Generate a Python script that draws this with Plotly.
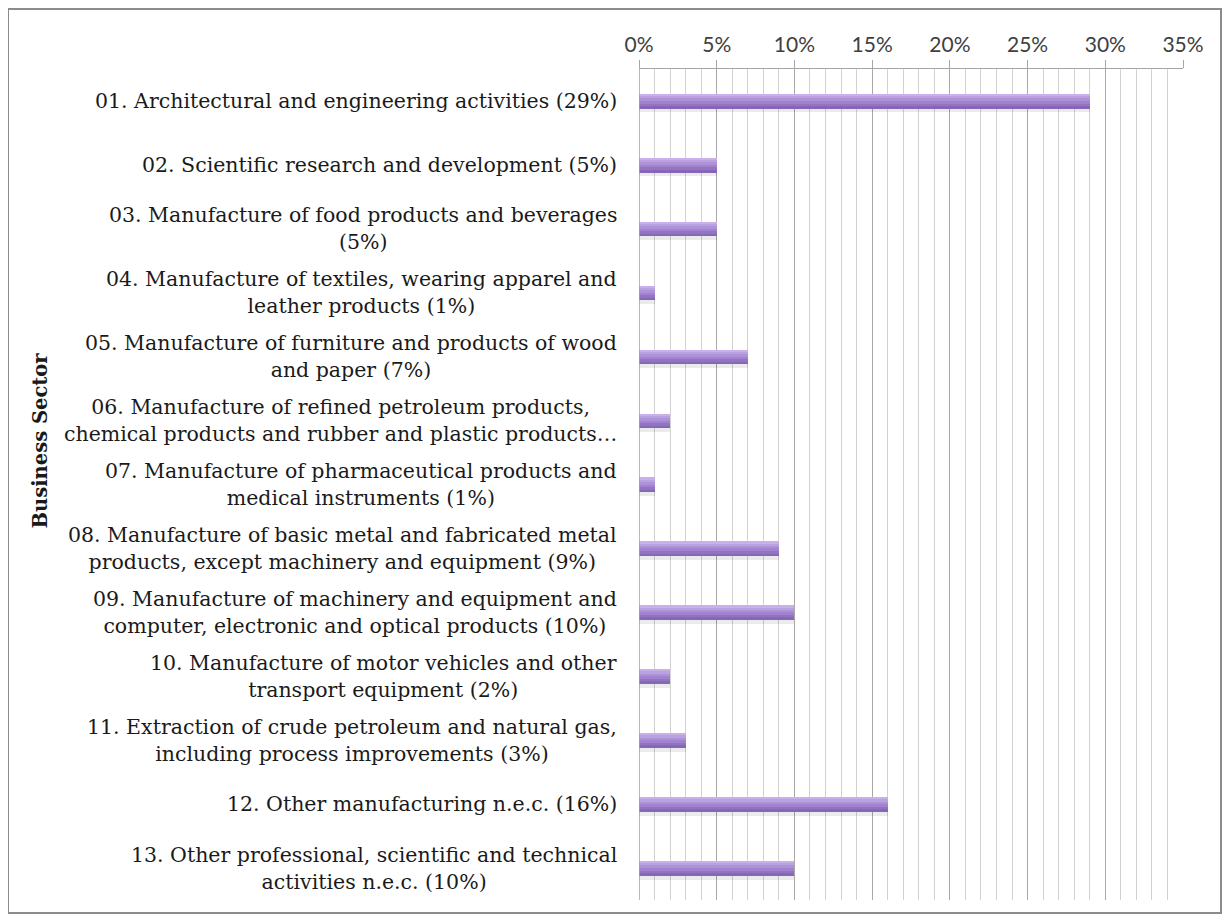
import plotly.graph_objects as go

sectors = [
    "01. Architectural and engineering activities (29%)",
    "02. Scientific research and development (5%)",
    "03. Manufacture of food products and beverages<br>(5%)",
    "04. Manufacture of textiles, wearing apparel and<br>leather products (1%)",
    "05. Manufacture of furniture and products of wood<br>and paper (7%)",
    "06. Manufacture of refined petroleum products,<br>chemical products and rubber and plastic products\u2026",
    "07. Manufacture of pharmaceutical products and<br>medical instruments (1%)",
    "08. Manufacture of basic metal and fabricated metal<br>products, except machinery and equipment (9%)",
    "09. Manufacture of machinery and equipment and<br>computer, electronic and optical products (10%)",
    "10. Manufacture of motor vehicles and other<br>transport equipment (2%)",
    "11. Extraction of crude petroleum and natural gas,<br>including process improvements (3%)",
    "12. Other manufacturing n.e.c. (16%)",
    "13. Other professional, scientific and technical<br>activities n.e.c. (10%)",
]
share = [29, 5, 5, 1, 7, 2, 1, 9, 10, 2, 3, 16, 10]
x_ticks = [0, 5, 10, 15, 20, 25, 30, 35]
x_tick_labels = [f"{t}%" for t in x_ticks]

cats = ["s" + s.split(".")[0] for s in sectors]

fig = go.Figure()
# soft shadow under each bar
fig.add_trace(go.Bar(y=cats, x=share, orientation="h", width=0.06, offset=0.12,
                     marker=dict(color="rgba(0,0,0,0.08)", line=dict(width=0)),
                     hoverinfo="skip"))
# bar body drawn as stacked bands: dark bottom -> light top
bands = [(0.23, "#8766b6"), (0.19, "#9374c2"), (0.15, "#a083cd"),
         (0.11, "#ad92d8"), (0.07, "#baa1e1"), (0.035, "#c8b0ea")]
for w, col in bands:
    fig.add_trace(go.Bar(y=cats, x=share, orientation="h", width=w, offset=-0.11,
                         marker=dict(color=col, line=dict(width=0)),
                         hoverinfo="skip"))

for i, s in enumerate(sectors):
    fig.add_annotation(x=0, xref="paper", y=i, yref="y", text=s, showarrow=False,
                       xanchor="right", xshift=-20, align="center",
                       font=dict(family="DejaVu Serif", size=20.5, color="#1a1a1a"))

fig.add_annotation(x=0, xref="paper", y=0.553, yref="paper", text="<b>Business Sector</b>",
                   showarrow=False, textangle=-90, xanchor="center", xshift=-599,
                   font=dict(family="DejaVu Serif", size=19.5, color="#1a1a1a"))

fig.update_layout(
    width=1214, height=906,
    margin=dict(l=631, r=39, t=61, b=14),
    paper_bgcolor="white", plot_bgcolor="white",
    barmode="overlay", bargap=0, showlegend=False,
    shapes=[dict(type="rect", xref="paper", yref="paper", x0=-631 / 544, x1=1 + 38 / 544,
                 y0=-13 / 831, y1=1 + 60 / 831, line=dict(color="#8c8c8c", width=2))],
)
fig.update_xaxes(side="top", range=[0, 35], tickvals=x_ticks, ticktext=x_tick_labels,
                 showgrid=True, gridcolor="#a8a8a8", gridwidth=1,
                 minor=dict(dtick=1, showgrid=True, gridcolor="#d2d2d2", gridwidth=1),
                 showline=True, linecolor="#a6a6a6", linewidth=1,
                 ticks="outside", ticklen=8, tickcolor="#a6a6a6",
                 tickfont=dict(family="Lato", size=21, color="#404040"),
                 zeroline=False, fixedrange=True)
fig.update_yaxes(categoryorder="array", categoryarray=cats, autorange="reversed",
                 showticklabels=False, showgrid=False, zeroline=False,
                 showline=False, fixedrange=True)
fig.add_vline(x=0, line=dict(color="#a0a0a0", width=1.5))

fig.write_html("out.html")
